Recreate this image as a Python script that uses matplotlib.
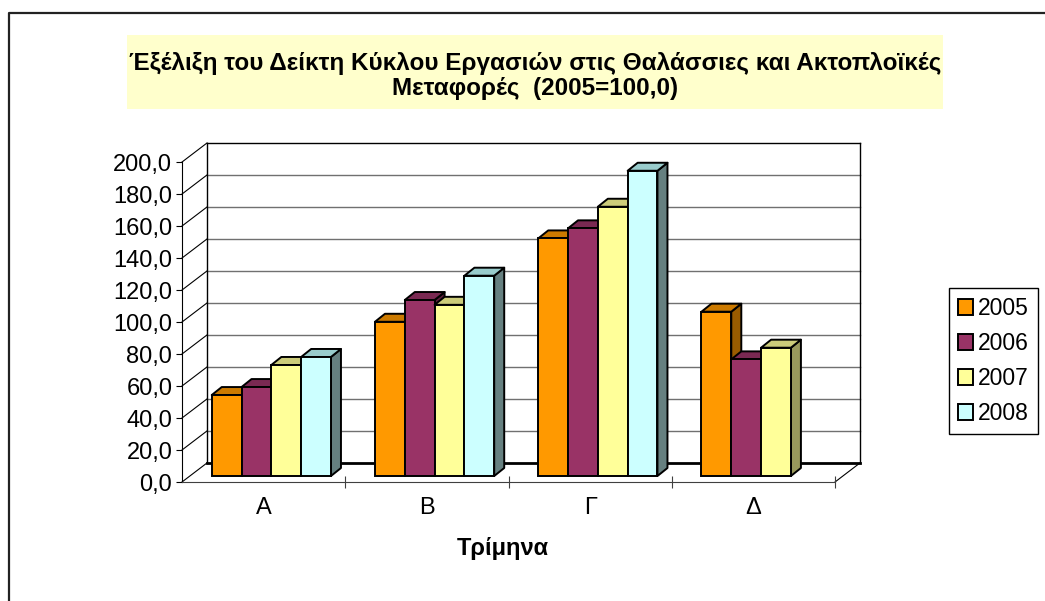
import numpy as np
import matplotlib
matplotlib.use("Agg")
import matplotlib.pyplot as plt
from matplotlib.patches import Patch, Rectangle
from matplotlib.lines import Line2D

plt.rcParams["font.family"] = ["Liberation Sans", "DejaVu Sans"]

# data
quarters = ["Α", "Β", "Γ", "Δ"]
years = ["2005", "2006", "2007", "2008"]
v2005 = [50.6, 96.4, 148.5, 102.7]
v2006 = [55.6, 110.0, 154.8, 72.9]
v2007 = [69.4, 107.0, 168.3, 80.2]
v2008 = [74.4, 125.2, 190.8, np.nan]
series = [v2005, v2006, v2007, v2008]

front_cols = ["#FF9900", "#993366", "#FFFF99", "#CCFFFF"]
top_cols = ["#CC7A00", "#7A2952", "#CCCC7A", "#99CCCC"]
side_cols = ["#995C00", "#5C1F3D", "#99995C", "#668080"]

title = ("Έξέλιξη του Δείκτη Κύκλου Εργασιών στις Θαλάσσιες και Ακτοπλοϊκές\n"
         "Μεταφορές  (2005=100,0)")

W, H = 1045, 601
fig = plt.figure(figsize=(W / 100, H / 100), dpi=100)

# plot box (front axis at x=182, floor at y=482, back wall to x=860, top y=143)
ax = fig.add_axes([182 / W, 1 - 482 / H, 678 / W, 339 / H])
DX, DY = 0.153, 11.9          # depth of the box in data units
ax.set_xlim(0, 4 + DX)
ax.set_ylim(0, 200 + DY)
ax.patch.set_visible(False)

ticks = np.arange(0, 201, 20)
# back wall gridlines and side wall diagonals
for v in ticks:
    lc = "black" if v in (0, 200) else "#707070"
    lw = 2.0 if v == 0 else 1.0
    ax.plot([DX, 4 + DX], [v + DY, v + DY], color=lc, lw=lw, zorder=1, clip_on=False)
    ax.plot([0, DX], [v, v + DY], color="black", lw=0.8, zorder=1, clip_on=False)
ax.plot([DX, DX], [DY, 200 + DY], color="black", lw=1.0, zorder=1, clip_on=False)
ax.plot([4 + DX, 4 + DX], [DY, 200 + DY], color="black", lw=1.0, zorder=1, clip_on=False)
ax.plot([4, 4 + DX], [0, DY], color="black", lw=0.8, zorder=1, clip_on=False)

# bars with fake depth
base = 3.75
bw = 0.1826
off = 0.182
ddx, ddy = 0.0613, 5.0
z = 5
for i in range(len(quarters)):
    for j, vals in enumerate(series):
        v = vals[i]
        if np.isnan(v):
            continue
        x0 = i + off + j * bw
        x1 = x0 + bw
        top = base + v
        ax.fill([x1, x1, x1 + ddx, x1 + ddx], [base, top, top + ddy, base + ddy],
                facecolor=side_cols[j], edgecolor="black", lw=1.4, zorder=z,
                joinstyle="round")
        ax.fill([x0, x1, x1 + ddx, x0 + ddx], [top, top, top + ddy, top + ddy],
                facecolor=top_cols[j], edgecolor="black", lw=1.4, zorder=z + 1,
                joinstyle="round")
        ax.bar(x0, v, width=bw, bottom=base, align="edge", color=front_cols[j],
               edgecolor="black", lw=1.4, zorder=z + 2)
        z += 3

# axes
for s in ["top", "right"]:
    ax.spines[s].set_visible(False)
ax.spines["left"].set_bounds(0, 200)
ax.spines["bottom"].set_bounds(0, 4)
ax.spines["left"].set_color("black")
ax.spines["bottom"].set_color("#404040")
ax.set_yticks(ticks)
ax.set_yticklabels([f"{t:.1f}".replace(".", ",") for t in ticks], fontsize=17)
ax.tick_params(axis="y", direction="out", length=4, width=0.8, pad=3)
ax.set_xticks([1, 2, 3, 4])
ax.set_xticklabels([])
ax.tick_params(axis="x", which="major", direction="inout", length=8, width=0.8, color="#404040")
ax.set_xticks([0.5, 1.5, 2.5, 3.5], minor=True)
ax.set_xticklabels(quarters, minor=True, fontsize=17)
ax.tick_params(axis="x", which="minor", length=0, pad=11)

fig.text(503 / W, 1 - 549 / H, "Τρίμηνα", ha="center", va="center",
         fontsize=17, fontweight="bold")

# title on pale yellow band
fig.add_artist(Rectangle((127 / W, 1 - 109 / H), (943 - 127) / W, 74 / H,
                         transform=fig.transFigure, facecolor="#FFFFCC",
                         edgecolor="none", zorder=0))
fig.text(535 / W, 1 - 76 / H, title, ha="center", va="center", fontsize=17.5,
         fontweight="bold", linespacing=1.15)

# chart border (left and top visible)
fig.add_artist(Line2D([9 / W, 9 / W, 1.0], [0.0, 1 - 13 / H, 1 - 13 / H],
                      transform=fig.transFigure, color="#222222", lw=1.6))

handles = [Patch(facecolor=c, edgecolor="black", lw=1.4) for c in front_cols]
fig.legend(handles, years, loc="upper left",
           bbox_to_anchor=(949 / W, 1 - 288 / H), fontsize=16.5,
           frameon=True, fancybox=False, edgecolor="black", framealpha=1,
           handlelength=0.65, handleheight=0.65, handletextpad=0.2,
           labelspacing=0.52, borderpad=0.4, borderaxespad=0)

fig.savefig("out.png", dpi=100)
